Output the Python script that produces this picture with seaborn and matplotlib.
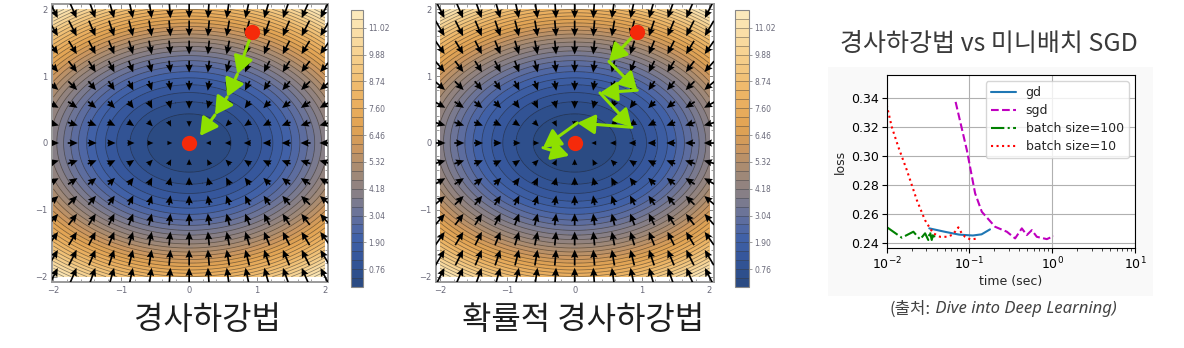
import numpy as np
import matplotlib
matplotlib.use("Agg")
import matplotlib.pyplot as plt
import seaborn as sns
from matplotlib.colors import LinearSegmentedColormap
from matplotlib.patches import Rectangle
from matplotlib.ticker import MultipleLocator, FixedLocator

# ---------------- data ----------------
# objective surface f(x, y) = coef_x * x^2 + coef_y * y^2
coef_x = 1.0
coef_y = 2.0
grid_lo, grid_hi = -2.0, 2.0
arrow_grid_n = 15
level_step = 0.38
level_count = 31
cbar_ticks = [0.76, 1.90, 3.04, 4.18, 5.32, 6.46, 7.60, 8.74, 9.88, 11.02]
axis_ticks = [-2, -1, 0, 1, 2]

start_point = (0.93, 1.665)
minimum_point = (0.0, 0.0)
gd_path_x = [0.93, 0.71, 0.56, 0.38, 0.16]
gd_path_y = [1.665, 1.03, 0.69, 0.42, 0.105]
sgd_path_x = [0.93, 0.51, 0.93, 0.376, 0.85, 0.04, -0.47, -0.08]
sgd_path_y = [1.665, 1.22, 0.79, 0.75, 0.235, 0.30, -0.07, -0.19]

gd_time = [0.0327, 0.05, 0.075, 0.11, 0.14, 0.177]
gd_loss = [0.2501, 0.2478, 0.2458, 0.2452, 0.2460, 0.2494]
sgd_time = [0.068, 0.093, 0.117, 0.141, 0.204, 0.283, 0.356, 0.429, 0.493, 0.567, 0.651, 0.861, 1.035]
sgd_loss = [0.3371, 0.3039, 0.2742, 0.2615, 0.2512, 0.2478, 0.2432, 0.2501, 0.2455, 0.2489, 0.2443, 0.2427, 0.2448]
b100_time = [0.010, 0.0152, 0.021, 0.0253, 0.0291, 0.0318, 0.0333, 0.035, 0.0366, 0.0384]
b100_loss = [0.2510, 0.2437, 0.2478, 0.2425, 0.2467, 0.2421, 0.2478, 0.2421, 0.2467, 0.2425]
b10_time = [0.010, 0.0115, 0.0138, 0.0175, 0.0231, 0.029, 0.0334, 0.0366, 0.0442, 0.0531,
            0.0612, 0.067, 0.0734, 0.0806, 0.0885, 0.102, 0.123]
b10_loss = [0.335, 0.320, 0.3062, 0.2902, 0.2696, 0.2558, 0.2501, 0.2467, 0.2443, 0.2443,
            0.2455, 0.2478, 0.2508, 0.2467, 0.2443, 0.2425, 0.2430]

caption_left = "경사하강법"
caption_mid = "확률적 경사하강법"
right_title = "경사하강법 vs 미니배치 SGD"
source_a = "(출처:"
source_b = " Dive into Deep Learning)"

# ---------------- style ----------------
sns.set_theme(style="ticks")
plt.rcParams["font.family"] = ["DejaVu Sans", "Noto Sans CJK KR"]
KR = ["Noto Sans CJK KR", "DejaVu Sans"]

W, H = 1184, 348
fig = plt.figure(figsize=(W / 100, H / 100), dpi=100)
fig.patch.set_facecolor("white")


def fx(px):
    return px / W


def fy(py):
    return 1 - py / H


cmap = LinearSegmentedColormap.from_list(
    "lake",
    [(0.00, "#29497f"), (0.10, "#34569a"), (0.18, "#4262a8"), (0.26, "#66719c"),
     (0.33, "#847e88"), (0.42, "#a48a74"), (0.50, "#c99660"), (0.58, "#e2a352"),
     (0.70, "#edb566"), (0.84, "#f6d08e"), (1.00, "#fdecc0")])

levels = np.arange(level_count + 1) * level_step
gx = np.linspace(grid_lo, grid_hi, 301)
X, Y = np.meshgrid(gx, gx)
Z = coef_x * X ** 2 + coef_y * Y ** 2

ag = np.linspace(grid_lo, grid_hi, arrow_grid_n)
AX, AY = np.meshgrid(ag, ag)
GX, GY = 2 * coef_x * AX, 2 * coef_y * AY
GM = np.hypot(GX, GY)
px_per_unit = 67.5
Lpx = np.where(GM > 0, 4.0 + 1.75 * GM, 0.0)
with np.errstate(invalid="ignore", divide="ignore"):
    U = np.where(GM > 0, -GX / GM * Lpx / px_per_unit, 0.0)
    V = np.where(GM > 0, -GY / GM * Lpx / px_per_unit, 0.0)

panels = [
    dict(rect=(52, 4, 328, 282), cbar=(351, 10, 363, 287), xlim=(-2.02, 2.045),
         path=(gd_path_x, gd_path_y), cap=caption_left, capx=207),
    dict(rect=(436, 4, 714, 282), cbar=(735, 10, 749, 287), xlim=(-2.06, 2.07),
         path=(sgd_path_x, sgd_path_y), cap=caption_mid, capx=583),
]

for p in panels:
    l, t, r, b = p["rect"]
    ax = fig.add_axes([fx(l), fy(b), fx(r - l), (b - t) / H])
    cf = ax.contourf(X, Y, Z, levels=levels, cmap=cmap)
    ax.contour(X, Y, Z, levels=levels[1:], colors="#1a1a1a", linewidths=0.55, alpha=0.5)
    ax.quiver(AX, AY, U, V, angles="xy", scale_units="xy", scale=1, pivot="middle",
              units="dots", width=1.7, headwidth=4.3, headlength=4.8, headaxislength=4.3,
              color="black", zorder=3)
    px_, py_ = p["path"]
    for i in range(len(px_) - 1):
        ax.annotate("", xy=(px_[i + 1], py_[i + 1]), xytext=(px_[i], py_[i]),
                    arrowprops=dict(arrowstyle="-|>,head_length=0.75,head_width=0.42",
                                    color="#8ee000", lw=2.2, shrinkA=0, shrinkB=0,
                                    mutation_scale=14), zorder=5)
    ax.plot([start_point[0], minimum_point[0]], [start_point[1], minimum_point[1]],
            "o", color="#f52a0a", ms=11, mec="none", zorder=6, linestyle="none")
    ax.set_xlim(*p["xlim"])
    ax.set_ylim(-2.08, 2.08)
    ax.xaxis.set_major_locator(FixedLocator(axis_ticks))
    ax.yaxis.set_major_locator(FixedLocator(axis_ticks))
    ax.xaxis.set_minor_locator(MultipleLocator(0.2))
    ax.yaxis.set_minor_locator(MultipleLocator(0.2))
    ax.tick_params(which="both", direction="in", top=True, right=True, colors="#777",
                   labelcolor="#6a6a7a", labelsize=6, pad=3)
    ax.tick_params(which="major", length=3.5, width=0.6)
    ax.tick_params(which="minor", length=2, width=0.5)
    for s in ax.spines.values():
        s.set_color("#9a9a9a")
        s.set_linewidth(1.4)
    ax.set_facecolor("white")

    cl, ct, cr, cb = p["cbar"]
    cax = fig.add_axes([fx(cl), fy(cb), fx(cr - cl), (cb - ct) / H])
    cbar = fig.colorbar(cf, cax=cax, ticks=cbar_ticks, drawedges=True)
    cbar.dividers.set_color("#3a3a3a")
    cbar.dividers.set_linewidth(0.5)
    cbar.dividers.set_alpha(0.6)
    cbar.outline.set_edgecolor("#888")
    cbar.outline.set_linewidth(0.8)
    cax.yaxis.set_major_formatter("{x:.2f}")
    cax.tick_params(labelsize=5.5, length=2.5, width=0.5, colors="#777",
                    labelcolor="#6a6a7a", pad=1.5)

    fig.text(fx(p["capx"]), fy(320), p["cap"], ha="center", va="center",
             fontsize=23, family=KR, color="#1e1e1e")

# ---------------- right chart ----------------
fig.add_artist(Rectangle((fx(828), fy(296)), fx(325), 229 / H, transform=fig.transFigure,
                         facecolor="#f9f9f9", edgecolor="none", zorder=-5))

ax3 = fig.add_axes([fx(886.7), fy(248), fx(248.3), 173 / H])
ax3.set_facecolor("white")
series = [
    (gd_time, gd_loss, "gd", "#1f77b4", "-"),
    (sgd_time, sgd_loss, "sgd", "#bf00bf", "--"),
    (b100_time, b100_loss, "batch size=100", "#008000", "-."),
    (b10_time, b10_loss, "batch size=10", "#ff0000", ":"),
]
for tx, ly, lab, col, ls in series:
    sns.lineplot(x=tx, y=ly, ax=ax3, label=lab, color=col, linestyle=ls, lw=1.5,
                 estimator=None, sort=False)
ax3.set_xscale("log")
ax3.set_xlim(0.01, 10)
ax3.set_ylim(0.2366, 0.3556)
ax3.set_yticks([0.24, 0.26, 0.28, 0.30, 0.32, 0.34])
ax3.grid(True, which="major", color="#b0b0b0", lw=0.8)
ax3.set_xlabel("time (sec)", fontsize=9, labelpad=2)
ax3.set_ylabel("loss", fontsize=9, labelpad=3)
ax3.tick_params(which="major", labelsize=9, length=3.5, width=0.8, colors="black", pad=2)
ax3.tick_params(which="minor", length=2, width=0.6)
for s in ax3.spines.values():
    s.set_color("black")
    s.set_linewidth(0.8)
leg = ax3.legend(loc="upper right", fontsize=9, frameon=True, fancybox=True,
                 framealpha=0.8, edgecolor="#cccccc", handlelength=2.0,
                 borderpad=0.4, labelspacing=0.4)

fig.text(fx(989), fy(44), right_title, ha="center", va="center", fontsize=18,
         family=KR, weight="light", color="#3a3a3a")
fig.text(fx(931), fy(309), source_a, ha="right", va="center", fontsize=12,
         family=KR, color="#444444")
fig.text(fx(931), fy(309), source_b, ha="left", va="center", fontsize=12,
         family=["Noto Sans", "DejaVu Sans"], style="italic", color="#444444")

fig.savefig("out.png", dpi=100, facecolor="white")
